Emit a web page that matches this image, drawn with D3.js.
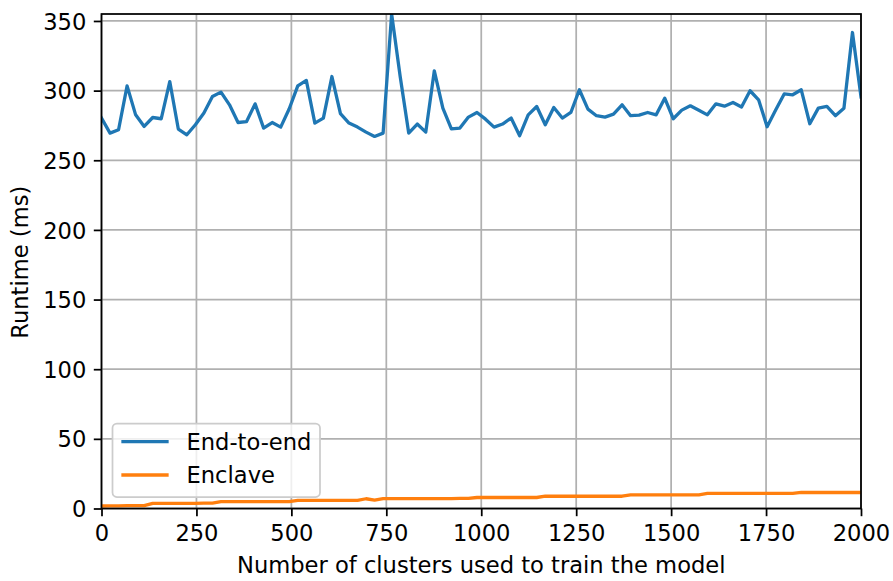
<!DOCTYPE html>
<html>
<head>
<meta charset="utf-8">
<script src="https://cdn.jsdelivr.net/npm/d3@7"></script>
<style>
  html, body { margin: 0; padding: 0; background: #fff; }
  svg { display: block; }
  text { font-family: "DejaVu Sans", sans-serif; fill: #000; }
</style>
</head>
<body>
<svg id="chart" width="893" height="581"></svg>
<script>
// ---- data ----
const nPoints = 90;               // clusters 0 .. 2000, 90 evenly spaced runs
const xMin = 0, xMax = 2000;
const endToEnd = [
  280.3, 269.5, 271.9, 303.4, 282.6, 274.3, 280.7, 279.8, 306.5, 272.4,
  268.3, 275.5, 283.9, 295.8, 298.9, 289.8, 277.1, 277.8, 290.5, 273.1,
  277.1, 273.8, 287.0, 303.4, 307.3, 276.7, 280.3, 310.1, 283.4, 276.7,
  273.8, 270.2, 267.1, 269.5, 355.0, 310.1, 269.5, 276.0, 270.2, 314.2,
  287.4, 272.6, 273.1, 281.0, 284.3, 279.5, 273.8, 276.0, 280.3, 267.6,
  282.6, 288.6, 275.5, 287.9, 280.3, 284.3, 300.6, 286.7, 282.0, 281.0,
  283.1, 289.8, 282.0, 282.4, 284.3, 282.6, 294.6, 279.8, 286.0, 289.1,
  285.9, 282.6, 290.5, 288.8, 291.5, 288.2, 299.9, 293.4, 274.1, 286.0,
  297.6, 297.0, 300.6, 276.2, 287.4, 288.6, 282.0, 287.3, 341.7, 295.5
];
const enclave = [
  1.8, 1.9, 1.9, 2.0, 2.0, 2.1, 3.7, 3.7, 3.7, 3.7,
  3.7, 3.7, 3.8, 3.8, 4.9, 4.9, 4.9, 4.9, 4.9, 4.9,
  4.9, 4.9, 5.0, 5.8, 5.8, 5.8, 5.8, 5.8, 5.8, 5.8,
  5.8, 7.0, 6.0, 7.1, 7.1, 7.1, 7.1, 7.1, 7.1, 7.1,
  7.1, 7.1, 7.2, 7.2, 7.9, 7.9, 7.9, 7.9, 7.9, 7.9,
  7.9, 7.9, 8.8, 8.8, 8.8, 8.8, 8.8, 8.8, 8.8, 8.8,
  8.8, 8.8, 9.8, 9.8, 9.8, 9.8, 9.8, 9.8, 9.8, 9.8,
  9.8, 10.8, 10.8, 10.8, 10.8, 10.8, 10.8, 10.8, 10.8, 10.8,
  10.8, 10.8, 11.5, 11.5, 11.5, 11.5, 11.5, 11.5, 11.5, 11.5
];
const clusters = d3.range(nPoints).map(i => xMin + i * (xMax - xMin) / (nPoints - 1));
const seriesNames = ["End-to-end", "Enclave"];
const seriesColors = ["#1f77b4", "#ff7f0e"];
const xTicks = [0, 250, 500, 750, 1000, 1250, 1500, 1750, 2000];
const yTicks = [0, 50, 100, 150, 200, 250, 300, 350];
const yMax = 355;
const xLabel = "Number of clusters used to train the model";
const yLabel = "Runtime (ms)";

// ---- layout ----
const W = 893, H = 581;
const plot = { left: 101.5, right: 861, top: 14, bottom: 508.5 };
const fs = 22.6;          // 10pt font
const tickLen = 7.7, tickPad = 7.5;

const svg = d3.select("#chart");
const x = d3.scaleLinear().domain([xMin, xMax]).range([plot.left, plot.right]);
const y = d3.scaleLinear().domain([0, yMax]).range([plot.bottom, plot.top]);

svg.append("defs").append("clipPath").attr("id", "clip")
  .append("rect")
  .attr("x", plot.left).attr("y", plot.top)
  .attr("width", plot.right - plot.left).attr("height", plot.bottom - plot.top);

// grid
const grid = svg.append("g");
grid.selectAll(".gx").data(xTicks).join("line")
  .attr("x1", d => x(d)).attr("x2", d => x(d))
  .attr("y1", plot.top).attr("y2", plot.bottom)
  .attr("stroke", "#b0b0b0").attr("stroke-width", 1.75);
grid.selectAll(".gy").data(yTicks).join("line")
  .attr("x1", plot.left).attr("x2", plot.right)
  .attr("y1", d => y(d)).attr("y2", d => y(d))
  .attr("stroke", "#b0b0b0").attr("stroke-width", 1.75);

// lines
const allSeries = [endToEnd, enclave];
const lineGen = d3.line().x((d, i) => x(clusters[i])).y(d => y(d));
svg.append("g").attr("clip-path", "url(#clip)")
  .selectAll("path").data(allSeries).join("path")
  .attr("d", d => lineGen(d))
  .attr("fill", "none")
  .attr("stroke", (d, i) => seriesColors[i])
  .attr("stroke-width", 3.3)
  .attr("stroke-linejoin", "round")
  .attr("stroke-linecap", "square");

// axes
const xAxis = d3.axisBottom(x).tickValues(xTicks).tickSize(tickLen).tickPadding(tickPad).tickFormat(d3.format("d"));
const yAxis = d3.axisLeft(y).tickValues(yTicks).tickSize(tickLen).tickPadding(tickPad).tickFormat(d3.format("d"));
const gx = svg.append("g").attr("transform", `translate(0,${plot.bottom})`).call(xAxis);
const gy = svg.append("g").attr("transform", `translate(${plot.left},0)`).call(yAxis);
[gx, gy].forEach(g => {
  g.select(".domain").remove();
  g.selectAll(".tick line").attr("stroke", "#000").attr("stroke-width", 1.75);
  g.selectAll(".tick text").attr("font-size", fs).attr("font-family", "DejaVu Sans").attr("fill", "#000");
});
gx.selectAll(".tick text").attr("dy", "0.76em");
gy.selectAll(".tick text").attr("dy", "0.36em");

// spines
svg.append("rect")
  .attr("x", plot.left).attr("y", plot.top)
  .attr("width", plot.right - plot.left).attr("height", plot.bottom - plot.top)
  .attr("fill", "none").attr("stroke", "#000").attr("stroke-width", 1.75);

// axis labels
svg.append("text")
  .attr("x", (plot.left + plot.right) / 2).attr("y", 565).attr("dy", "0.36em")
  .attr("text-anchor", "middle").attr("font-size", fs).text(xLabel);
svg.append("text")
  .attr("transform", `translate(20,${(plot.top + plot.bottom) / 2 + 1}) rotate(-90)`)
  .attr("dy", "0.36em")
  .attr("text-anchor", "middle").attr("font-size", fs).text(yLabel);

// legend
const lg = svg.append("g");
const lgBox = { x: 112.5, y: 423.5, w: 207.5, h: 73.5 };
lg.append("rect")
  .attr("x", lgBox.x).attr("y", lgBox.y).attr("width", lgBox.w).attr("height", lgBox.h)
  .attr("rx", 4.4).attr("ry", 4.4)
  .attr("fill", "#fff").attr("fill-opacity", 0.8)
  .attr("stroke", "#cccccc").attr("stroke-width", 1.75);
const rowY = [441.7, 475];
seriesNames.forEach((name, i) => {
  lg.append("line")
    .attr("x1", lgBox.x + 10.5).attr("x2", lgBox.x + 54.5)
    .attr("y1", rowY[i]).attr("y2", rowY[i])
    .attr("stroke", seriesColors[i]).attr("stroke-width", 3.3)
    .attr("stroke-linecap", "square");
  lg.append("text")
    .attr("x", lgBox.x + 74).attr("y", rowY[i]).attr("dy", "0.36em")
    .attr("font-size", fs).text(name);
});
</script>
</body>
</html>
